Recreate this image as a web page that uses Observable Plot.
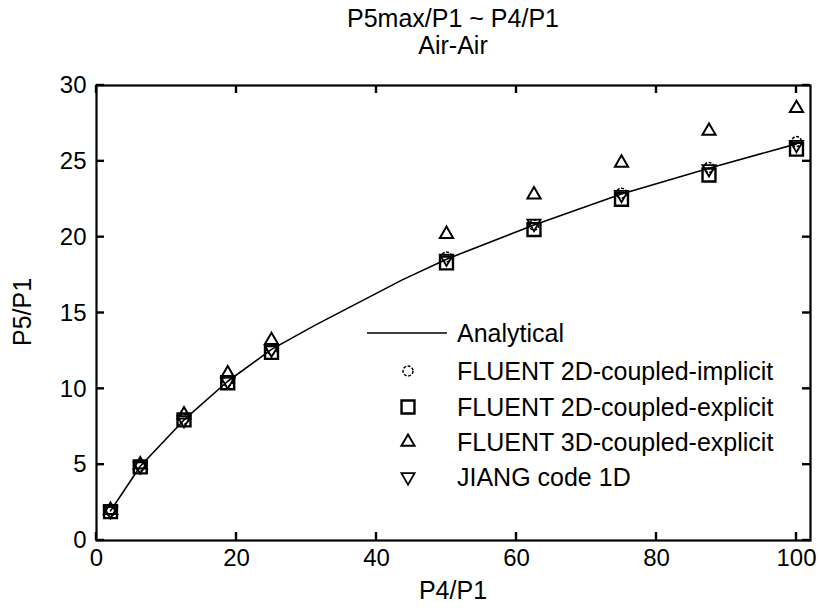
<!DOCTYPE html>
<html><head><meta charset="utf-8">
<script src="https://cdn.jsdelivr.net/npm/d3@7"></script>
<script src="https://cdn.jsdelivr.net/npm/@observablehq/plot@0.6"></script>
<style>body{margin:0;background:#fff} svg{display:block}</style>
</head><body><div id="chart"></div>
<script>
// ---- data ----
const pressureRatio = [2, 6.25, 12.5, 18.75, 25, 50, 62.5, 75, 87.5, 100];
const analyticX = [2, 6.25, 12.5, 18.75, 25, 31.25, 37.5, 43.75, 50, 62.5, 75, 87.5, 100];
const analyticY = [1.95, 4.9, 7.95, 10.5, 12.6, 14.2, 15.7, 17.2, 18.55, 20.8, 22.85, 24.55, 26.15];
const fluent2DImplicit = [1.95, 4.9, 8.0, 10.5, 12.6, 18.7, 20.8, 22.9, 24.6, 26.3];
const fluent2DExplicit = [1.9, 4.85, 7.95, 10.4, 12.4, 18.3, 20.5, 22.5, 24.1, 25.8];
const fluent3DExplicit = [2.0, 5.0, 8.3, 11.0, 13.2, 20.2, 22.8, 24.9, 27.0, 28.5];
const jiangCode1D = [1.95, 4.9, 7.95, 10.5, 12.6, 18.6, 20.9, 22.8, 24.5, 26.1];
const xTicks = [0, 20, 40, 60, 80, 100];
const yTicks = [0, 5, 10, 15, 20, 25, 30];
const xDomain = [0, 102];
const yDomain = [0, 30];
const titleLines = ["P5max/P1 ~ P4/P1", "Air-Air"];
const xLabel = "P4/P1";
const yLabel = "P5/P1";
const legendLabels = ["Analytical", "FLUENT 2D-coupled-implicit", "FLUENT 2D-coupled-explicit", "FLUENT 3D-coupled-explicit", "JIANG code 1D"];

const FONT = "'Liberation Sans', Arial, Helvetica, sans-serif";

const triangleDown = {
  draw(ctx, size) {
    const y = Math.sqrt(size / (Math.sqrt(3) * 3));
    ctx.moveTo(0, 2 * y);
    ctx.lineTo(-Math.sqrt(3) * y, -y);
    ctx.lineTo(Math.sqrt(3) * y, -y);
    ctx.closePath();
  }
};

const analytic = analyticX.map((x, i) => ({x, y: analyticY[i]}));
const rows = s => pressureRatio.map((x, i) => ({x, y: s[i]}));

const R = {circle: 5, square: 7.3, triangle: 4.9, down: 4.9};
const W = 822, H = 611, ML = 96, MR = 12, MT = 85, MB = 71;
const TICK = 8;

const plot = Plot.plot({
  width: W, height: H,
  marginLeft: ML, marginRight: MR, marginTop: MT, marginBottom: MB,
  style: {fontFamily: FONT, fontSize: "24px", color: "black", background: "white"},
  x: {domain: xDomain},
  y: {domain: yDomain},
  marks: [
    Plot.axisX(xTicks, {anchor: "bottom", tickSize: 0, tickPadding: 8, label: null, fontSize: 24}),
    Plot.axisY(yTicks, {anchor: "left", tickSize: 0, tickPadding: 10, label: null, fontSize: 24}),
    Plot.frame({stroke: "black", strokeWidth: 2.2}),
    Plot.line(analytic, {x: "x", y: "y", stroke: "black", strokeWidth: 1.6}),
    Plot.dot(rows(fluent3DExplicit), {x: "x", y: "y", symbol: "triangle", r: R.triangle, stroke: "black", strokeWidth: 2, fill: "none"}),
    Plot.dot(rows(fluent2DExplicit), {x: "x", y: "y", symbol: "square", r: R.square, stroke: "black", strokeWidth: 2.4, fill: "none"}),
    Plot.dot(rows(fluent2DImplicit), {x: "x", y: "y", symbol: "circle", r: R.circle, stroke: "black", strokeWidth: 1.5, fill: "none", strokeDasharray: "3,1.5"}),
    Plot.dot(rows(jiangCode1D), {x: "x", y: "y", symbol: triangleDown, r: R.down, stroke: "black", strokeWidth: 1.8, fill: "none"})
  ]
});

const svg = d3.select(plot);
svg.attr("font-family", FONT);
const sx = plot.scale("x"), sy = plot.scale("y");
// inward ticks on all four sides, placed with Plot's own scales
const tg = svg.append("g").attr("stroke", "black").attr("stroke-width", 2.4);
const X0 = sx.apply(xDomain[0]), X1 = sx.apply(xDomain[1]);
const Y0 = sy.apply(yDomain[0]), Y1 = sy.apply(yDomain[1]);
xTicks.forEach(v => {
  const px = sx.apply(v);
  tg.append("line").attr("x1", px).attr("x2", px).attr("y1", Y0).attr("y2", Y0 - TICK);
  tg.append("line").attr("x1", px).attr("x2", px).attr("y1", Y1).attr("y2", Y1 + TICK);
});
yTicks.forEach(v => {
  const py = sy.apply(v);
  tg.append("line").attr("y1", py).attr("y2", py).attr("x1", X0).attr("x2", X0 + TICK);
  tg.append("line").attr("y1", py).attr("y2", py).attr("x1", X1).attr("x2", X1 - TICK);
});

const cx = (ML + W - MR) / 2;
const addText = (x, y, t, anchor = "middle") =>
  svg.append("text").attr("x", x).attr("y", y).attr("text-anchor", anchor)
    .attr("font-size", 25).attr("fill", "black").text(t);
addText(cx, 27, titleLines[0]);
addText(cx, 54, titleLines[1]);
addText(cx, 599, xLabel);
svg.append("text").attr("transform", "translate(31,312) rotate(-90)").attr("text-anchor", "middle")
  .attr("font-size", 25).attr("fill", "black").text(yLabel);

const lg = svg.append("g").attr("text-anchor", "start");
const rowsY = [333, 371, 407, 442, 477];
const mx = 408, lx = 457;
lg.append("line").attr("x1", 367).attr("x2", 447).attr("y1", rowsY[0]).attr("y2", rowsY[0])
  .attr("stroke", "black").attr("stroke-width", 1.6);
const syms = [
  [d3.symbolCircle, R.circle, 1.5, "3,1.5"],
  [d3.symbolSquare, R.square, 2.4, null],
  [d3.symbolTriangle, R.triangle, 2, null],
  [triangleDown, R.down, 1.8, null]
];
syms.forEach(([s, r, w, dash], i) => {
  const p = lg.append("path")
    .attr("d", d3.symbol(s, Math.PI * r * r)())
    .attr("transform", `translate(${mx},${rowsY[i + 1]})`)
    .attr("fill", "none").attr("stroke", "black").attr("stroke-width", w);
  if (dash) p.attr("stroke-dasharray", dash);
});
legendLabels.forEach((t, i) => {
  lg.append("text").attr("x", lx).attr("y", rowsY[i] + 9).attr("text-anchor", "start")
    .attr("font-size", 25).attr("fill", "black").text(t);
});

document.getElementById("chart").appendChild(plot);
</script>
</body></html>
